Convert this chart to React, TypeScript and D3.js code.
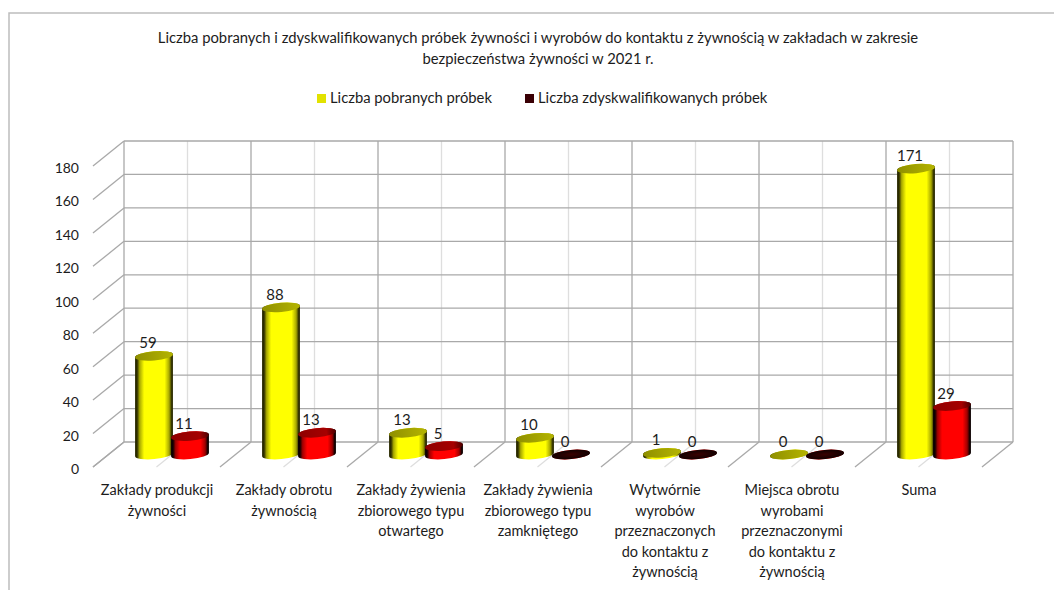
import * as d3 from "d3";

const width = 1054;
const height = 590;

const categories = [
  ["Zakłady produkcji", "żywności"],
  ["Zakłady obrotu", "żywnością"],
  ["Zakłady żywienia", "zbiorowego typu", "otwartego"],
  ["Zakłady żywienia", "zbiorowego typu", "zamkniętego"],
  ["Wytwórnie", "wyrobów", "przeznaczonych", "do kontaktu z", "żywnością"],
  ["Miejsca obrotu", "wyrobami", "przeznaczonymi", "do kontaktu z", "żywnością"],
  ["Suma"],
];
const titleLines = [
  "Liczba pobranych i zdyskwalifikowanych próbek żywności i wyrobów do kontaktu z żywnością w zakładach w zakresie",
  "bezpieczeństwa żywności w 2021 r.",
];
const seriesNames = ["Liczba pobranych próbek", "Liczba zdyskwalifikowanych próbek"];
const pobrane = [59, 88, 13, 10, 1, 0, 171];
const zdyskwalifikowane = [11, 13, 5, 0, 0, 0, 29];

const FONT = "Lato, 'Open Sans', sans-serif";
const GRID = "#a9a9a9";
const GRID_LIGHT = "#dedede";
const TEXT = "#1c1c1c";

// depth of the fake 3d box
const DEPTH = { x: -31, y: 25 };

const y = d3.scaleLinear().domain([0, 180]).range([442, 141]);
const xBack = d3.scaleLinear().domain([0, 7]).range([124, 1013]);
const band = d3
  .scaleBand<number>()
  .domain(d3.range(7))
  .range([124 + DEPTH.x / 2, 1013 + DEPTH.x / 2]);

const RX = 19;
const RY = 4.6;
const TILT = -5;
const dx = RX * Math.cos((TILT * Math.PI) / 180);
const dy = RX * Math.sin((TILT * Math.PI) / 180);

function Cylinder({ cx, value, kind }: { cx: number; value: number; kind: string }) {
  const base = y(0) + DEPTH.y / 2;
  const top = base - (y(0) - y(value));
  const body =
    `M${cx - dx},${top - dy} L${cx - dx},${base - dy} ` +
    `A${RX},${RY} ${TILT} 0 0 ${cx + dx},${base + dy} ` +
    `L${cx + dx},${top + dy} ` +
    `A${RX},${RY} ${TILT} 0 0 ${cx - dx},${top - dy} Z`;
  const capFill = value === 0 && kind === "red" ? "url(#capZero)" : `url(#${kind}Cap)`;
  return (
    <g>
      <path d={body} fill={`url(#${kind}Body)`} />
      <ellipse
        cx={cx}
        cy={top}
        rx={RX}
        ry={RY}
        fill={capFill}
        transform={`rotate(${TILT} ${cx} ${top})`}
      />
    </g>
  );
}

function BodyGradient({ id, color, mid, dark }: { id: string; color: string; mid: string; dark: string }) {
  return (
    <linearGradient id={id} x1="0" x2="1" y1="0" y2="0">
      <stop offset="0" stopColor={dark} />
      <stop offset="0.05" stopColor={dark} />
      <stop offset="0.12" stopColor={mid} />
      <stop offset="0.24" stopColor={color} />
      <stop offset="0.78" stopColor={color} />
      <stop offset="0.9" stopColor={mid} />
      <stop offset="0.97" stopColor={dark} />
      <stop offset="1" stopColor={dark} />
    </linearGradient>
  );
}

export default function App() {
  const yTicks = y.ticks(9);
  const halfSteps = d3.range(0.5, 7, 1);
  const fullSteps = d3.range(0, 8, 1);

  return (
    <svg
      width={width}
      height={height}
      style={{ position: "absolute", left: 0, top: 0, background: "#fff" }}
      fontFamily={FONT}
    >
      <defs>
        <BodyGradient id="yellowBody" color="#ffff00" mid="#a8a800" dark="#2a2a00" />
        <BodyGradient id="redBody" color="#ff0000" mid="#a00000" dark="#0c0000" />
        <linearGradient id="yellowCap" x1="0" x2="1" y1="0" y2="0">
          <stop offset="0" stopColor="#8f8f00" />
          <stop offset="1" stopColor="#b4b400" />
        </linearGradient>
        <linearGradient id="redCap" x1="0" x2="1" y1="0" y2="0">
          <stop offset="0" stopColor="#8e0000" />
          <stop offset="0.75" stopColor="#a50000" />
          <stop offset="1" stopColor="#4a0000" />
        </linearGradient>
        <radialGradient id="capZero">
          <stop offset="0" stopColor="#3a0000" />
          <stop offset="0.85" stopColor="#180000" />
          <stop offset="1" stopColor="#200000" />
        </radialGradient>
      </defs>

      {/* chart frame */}
      <path d={`M9,${height} L9,13 L${width},13`} fill="none" stroke="#bdbdbd" strokeWidth={1.5} />

      {/* title */}
      {titleLines.map((line, i) => (
        <text key={i} x={538} y={43 + i * 21} textAnchor="middle" fontSize={14.8} fill={TEXT}>
          {line}
        </text>
      ))}

      {/* legend */}
      <rect x={317} y={94} width={9} height={9} fill="#e2e200" />
      <text x={330} y={103} fontSize={14.8} fill={TEXT}>
        {seriesNames[0]}
      </text>
      <rect x={525} y={94} width={9} height={9} fill="#3a0005" />
      <text x={538} y={103} fontSize={14.8} fill={TEXT}>
        {seriesNames[1]}
      </text>

      {/* light minor grid */}
      {halfSteps.map((s) => (
        <g key={s} stroke={GRID_LIGHT} strokeWidth={1.3} fill="none">
          <line x1={xBack(s)} x2={xBack(s)} y1={y(180)} y2={y(0)} />
          <line x1={xBack(s)} x2={xBack(s) + DEPTH.x} y1={y(0)} y2={y(0) + DEPTH.y} />
        </g>
      ))}

      {/* wall and floor grid */}
      {yTicks.map((t) => (
        <g key={t} stroke={GRID} strokeWidth={1.3}>
          <line x1={xBack(0)} x2={xBack(7)} y1={y(t)} y2={y(t)} />
          <line x1={xBack(0)} x2={xBack(0) + DEPTH.x} y1={y(t)} y2={y(t) + DEPTH.y} />
        </g>
      ))}
      {fullSteps.map((s) => (
        <g key={s} stroke={GRID} strokeWidth={1.3}>
          <line x1={xBack(s)} x2={xBack(s)} y1={y(180)} y2={y(0)} />
          <line x1={xBack(s)} x2={xBack(s) + DEPTH.x} y1={y(0)} y2={y(0) + DEPTH.y} />
        </g>
      ))}

      {/* y axis labels */}
      {yTicks.map((t) => (
        <text
          key={t}
          x={79}
          y={y(t) + DEPTH.y + 1.5}
          textAnchor="end"
          dominantBaseline="central"
          fontSize={14}
          fill={TEXT}
        >
          {t}
        </text>
      ))}

      {/* bars */}
      {categories.map((_, i) => {
        const center = (band(i) ?? 0) + band.bandwidth() / 2;
        return (
          <g key={i}>
            <Cylinder cx={center - 18} value={pobrane[i]} kind="yellow" />
            <Cylinder cx={center + 18} value={zdyskwalifikowane[i]} kind="red" />
          </g>
        );
      })}

      {/* data labels */}
      {categories.map((_, i) => {
        const center = (band(i) ?? 0) + band.bandwidth() / 2;
        const base = y(0) + DEPTH.y / 2;
        return (
          <g key={i} textAnchor="middle" fontSize={15} fill={TEXT}>
            <text x={center - 24} y={base - (y(0) - y(pobrane[i])) - 7.5}>
              {pobrane[i]}
            </text>
            <text x={center + 12} y={base - (y(0) - y(zdyskwalifikowane[i])) - 7.5}>
              {zdyskwalifikowane[i]}
            </text>
          </g>
        );
      })}

      {/* category labels */}
      {categories.map((lines, i) => {
        const center = (band(i) ?? 0) + band.bandwidth() / 2;
        return (
          <text key={i} textAnchor="middle" fontSize={14.5} fill={TEXT}>
            {lines.map((line, j) => (
              <tspan key={j} x={center - 15} y={495 + j * 20.5}>
                {line}
              </tspan>
            ))}
          </text>
        );
      })}
    </svg>
  );
}
